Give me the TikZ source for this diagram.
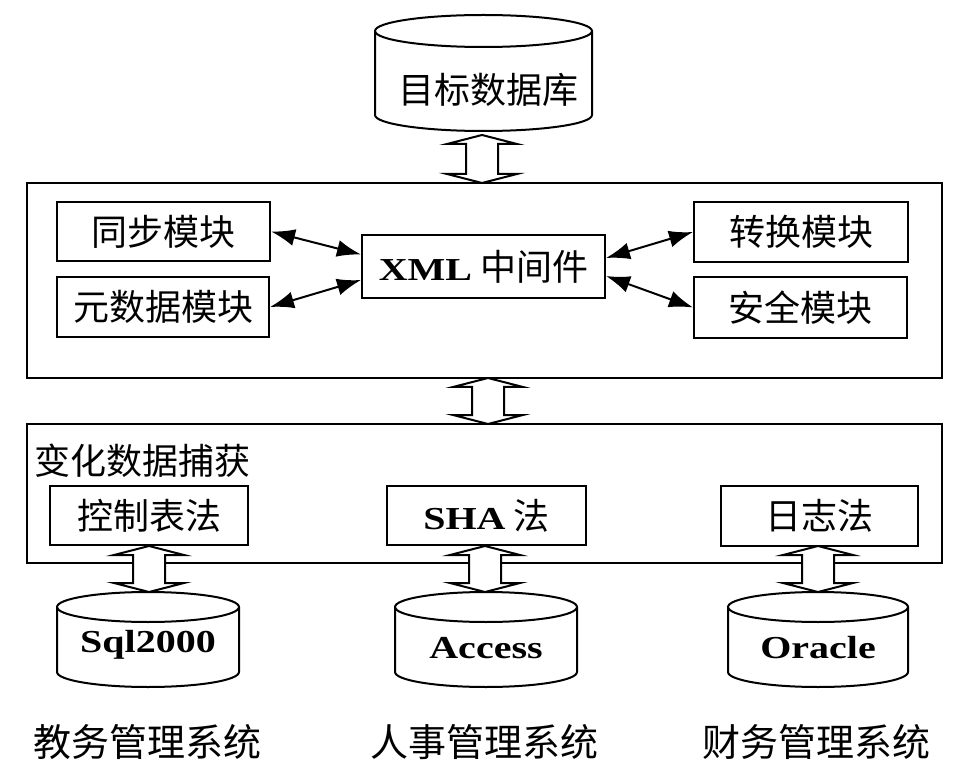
\documentclass[tikz,border=0pt]{standalone}
\usepackage{fontspec}
\newfontfamily\cjk{Noto Sans CJK SC}
\newfontfamily\lat[FakeStretch=1.25]{Liberation Serif}
\usetikzlibrary{arrows.meta,calc}
\newcommand\cjkbig{\cjk\fontsize{36}{40}\selectfont}
\newcommand\latbig{\lat\bfseries\fontsize{32}{36}\selectfont}
\tikzset{
  box/.style={draw, line width=2pt, rectangle, inner sep=0pt, font=\cjkbig},
  frame/.style={draw, line width=2pt, rectangle, inner sep=0pt},
  link/.style={line width=2pt, {Latex[length=24pt,width=17pt]}-{Latex[length=24pt,width=17pt]}},
  hollow/.style={draw, line width=2pt, fill=white, line join=miter},
  cylline/.style={draw, line width=2pt, fill=white},
  lbl/.style={inner sep=0pt},
}
% cylinder: name, cx, half-width, top ellipse centre y, bottom ellipse centre y, ry
\newcommand\dbcyl[6]{%
  \path[cylline] (#2-#3,#4) -- (#2-#3,#5)
     arc[start angle=180, end angle=360, x radius=#3pt, y radius=#6pt]
     -- (#2+#3,#4);
  \draw[line width=2pt] (#2,#4) ellipse [x radius=#3pt, y radius=#6pt];
  \coordinate (#1-top) at (#2,#4-#6);
  \coordinate (#1-bot) at (#2,#5+#6);
}
% hollow vertical double arrow between two points (first is the upper one)
\newcommand\hdarrow[2]{%
  \path[hollow] let \p1=(#1), \p2=(#2) in
    (\x1,\y1) -- (\x1+35pt,\y1-9pt) -- (\x1+16pt,\y1-9pt)
    -- (\x1+16pt,\y2+9pt) -- (\x1+35pt,\y2+9pt) -- (\x1,\y2)
    -- (\x1-35pt,\y2+9pt) -- (\x1-16pt,\y2+9pt)
    -- (\x1-16pt,\y1-9pt) -- (\x1-35pt,\y1-9pt) -- cycle;
}
\begin{document}
\begin{tikzpicture}[x=1pt,y=-1pt]
\useasboundingbox[fill=white] (0,0) rectangle (961,775);

% target database
\dbcyl{tdb}{483.5}{108.5}{31}{115}{16}
\node[lbl, font=\cjkbig] (tdbtxt) at (488,90) {目标数据库};

% upper frame
\node[frame, minimum width=915pt, minimum height=195pt] (up) at (484.5,280.5) {};
\node[box, minimum width=213pt, minimum height=59pt] (sync) at (163.5,231.5) {同步模块};
\node[box, minimum width=212pt, minimum height=60pt] (meta) at (163,307) {元数据模块};
\node[box, minimum width=243pt, minimum height=63pt] (xml) at (483.5,266.5) {{\latbig XML} 中间件};
\node[box, minimum width=214pt, minimum height=60pt] (conv) at (801,232) {转换模块};
\node[box, minimum width=213pt, minimum height=61pt] (sec) at (800.5,307.5) {安全模块};

\draw[link] (sync.east) -- ($(xml.west)+(0,-12)$);
\draw[link] (meta.east) -- ($(xml.west)+(0,13.5)$);
\draw[link] ($(xml.east)+(0,-8.5)$) -- (conv.west);
\draw[link] ($(xml.east)+(0,9.5)$) -- (sec.west);

% lower frame
\node[frame, minimum width=915pt, minimum height=139pt] (low) at (484.5,493.5) {};
\node[lbl, font=\cjkbig, anchor=west] (cdc) at (34,461) {变化数据捕获};
\node[box, minimum width=198pt, minimum height=59pt] (ctrl) at (149,515.5) {控制表法};
\node[box, minimum width=199pt, minimum height=59pt] (sha) at (486.5,515.5) {{\latbig SHA} 法};
\node[box, minimum width=197pt, minimum height=60pt] (log) at (819.5,516) {日志法};

% source databases
\dbcyl{sql}{148}{91}{607}{672}{15}
\node[lbl, font=\latbig] (sqltxt) at (148,645) {Sql2000};
\dbcyl{acc}{486}{91}{607}{672}{15}
\node[lbl, font=\latbig] (acctxt) at (486,648) {Access};
\dbcyl{ora}{818}{90}{607}{672}{15}
\node[lbl, font=\latbig] (oratxt) at (818,648) {Oracle};

% hollow arrows
\coordinate (a1t) at (482,135);
\coordinate (a1b) at (482,183);
\hdarrow{a1t}{a1b}
\coordinate (a2t) at (488,378);
\coordinate (a2b) at (488,424);
\hdarrow{a2t}{a2b}
\hdarrow{ctrl.south}{sql-top}
\coordinate (a4t) at (485,546);
\hdarrow{a4t}{acc-top}
\coordinate (a5t) at (818,546);
\hdarrow{a5t}{ora-top}

% system labels
\node[lbl, font=\cjk\fontsize{38}{42}\selectfont] (s1) at (147,742) {教务管理系统};
\node[lbl, font=\cjk\fontsize{38}{42}\selectfont] (s2) at (484,742) {人事管理系统};
\node[lbl, font=\cjk\fontsize{38}{42}\selectfont] (s3) at (816,742) {财务管理系统};
\end{tikzpicture}
\end{document}
